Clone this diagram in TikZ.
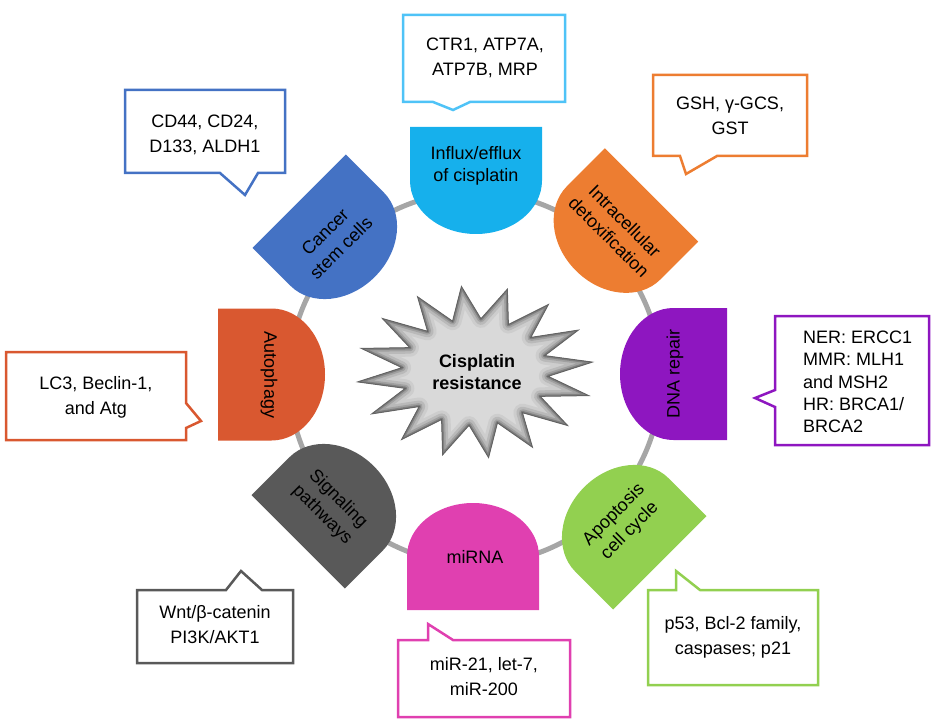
\documentclass[tikz,border=0pt]{standalone}
\usepackage{fontspec}
\setmainfont{Liberation Sans}
\definecolor{cInflux}{RGB}{22,176,236}
\definecolor{cDetox}{RGB}{237,125,49}
\definecolor{cDNA}{RGB}{142,22,192}
\definecolor{cApop}{RGB}{146,208,80}
\definecolor{cMiR}{RGB}{224,64,176}
\definecolor{cSig}{RGB}{89,89,89}
\definecolor{cAuto}{RGB}{217,88,48}
\definecolor{cCSC}{RGB}{68,114,196}
\definecolor{cCTR}{RGB}{79,195,247}
\definecolor{cRing}{RGB}{166,166,166}
\definecolor{cStar}{RGB}{217,217,217}
\newcommand\dshape[4]{%
  \begin{scope}[shift={(#2,#3)},rotate=#4]
    \fill[#1] (-66,-53.5) -- (66,-53.5) -- (66,0)
      .. controls (66,29.55) and (36.45,53.5) .. (0,53.5)
      .. controls (-36.45,53.5) and (-66,29.55) .. (-66,0) -- cycle;
  \end{scope}}
\begin{document}
\begin{tikzpicture}[x=1pt,y=-1pt,
  lbl/.style={font=\fontsize{18}{22.5}\selectfont, align=center, inner sep=0pt, text=black},
  cal/.style={font=\fontsize{18}{25}\selectfont, align=center, inner sep=0pt, text=black},
  bubble/.style={line width=2.5, fill=white, line join=miter}]
\useasboundingbox (0,0) rectangle (931,719);
% ring
\draw[line width=5, cRing] (475,378) circle[radius=186];
% D shapes
\dshape{cInflux}{476}{180.5}{0}
\dshape{cDetox}{613.7}{232.8}{-45}
\dshape{cDNA}{673.5}{374}{-90}
\dshape{cApop}{622}{525}{-135}
\dshape{cMiR}{473}{556.5}{180}
\dshape{cSig}{336}{504}{135}
\dshape{cAuto}{271.5}{374.5}{90}
\dshape{cCSC}{337}{239}{45}
% labels of shapes
\node[lbl] (tInflux) at (476,166) {Influx/efflux\\of cisplatin};
\node[lbl, rotate=-45] (tDetox) at (617,229) {Intracellular\\detoxification};
\node[lbl, rotate=90] (tDNA) at (675,374) {DNA repair};
\node[lbl, rotate=45] (tApop) at (622,523) {Apoptosis\\cell cycle};
\node[lbl] (tMiR) at (475,557) {miRNA};
\node[lbl, rotate=-45] (tSig) at (330,507) {Signaling\\pathways};
\node[lbl, rotate=-90] (tAuto) at (269,375) {Autophagy};
\node[lbl, rotate=45] (tCSC) at (333,240) {Cancer\\stem cells};
% star
\path[save path=\starpath] ({475+118*cos(141.6)},{372-86*sin(141.6)})
  \foreach \i in {1,...,31}{ -- ({475+118*(1-0.38*mod(\i,2))*cos(141.6+11.25*\i)},{372-86*(1-0.38*mod(\i,2))*sin(141.6+11.25*\i)}) } -- cycle;
\begin{scope}
  \path[use path=\starpath, clip];
  \fill[cStar, use path=\starpath];
  \draw[use path=\starpath, line width=18, color={rgb,255:red,205;green,205;blue,205}, line join=round];
  \draw[use path=\starpath, line width=12, color={rgb,255:red,185;green,185;blue,185}, line join=round];
  \draw[use path=\starpath, line width=7, color={rgb,255:red,160;green,160;blue,160}, line join=round];
  \draw[use path=\starpath, line width=3.5, color={rgb,255:red,128;green,128;blue,128}, line join=round];
\end{scope}
\draw[use path=\starpath, line width=1, color={rgb,255:red,100;green,100;blue,100}];
\node[lbl, font=\fontsize{18}{22.5}\selectfont\bfseries] (center) at (477,372) {Cisplatin\\resistance};
% callouts
\draw[bubble, draw=cCTR] (403,15) -- (565,15) -- (565,102) -- (470,102) -- (453,110) -- (433,102) -- (403,102) -- cycle;
\node[cal] (bCTR) at (485,58) {CTR1, ATP7A,\\ATP7B, MRP};
\draw[bubble, draw=cDetox] (653,75) -- (807,75) -- (807,156) -- (717,156) -- (686,174) -- (680,156) -- (653,156) -- cycle;
\node[cal] (bGSH) at (730,116) {GSH, γ-GCS,\\GST};
\draw[bubble, draw=cDNA] (775,316) -- (929,316) -- (929,445) -- (775,445) -- (775,407) -- (755,398) -- (775,390) -- cycle;
\node[cal, align=left, anchor=west, font=\fontsize{18}{22.4}\selectfont] (bDNA) at (803,382) {NER: ERCC1\\MMR: MLH1\\and MSH2\\HR: BRCA1/\\BRCA2};
\draw[bubble, draw=cApop] (648,590) -- (676,590) -- (676,571) -- (700,590) -- (818,590) -- (818,685) -- (648,685) -- cycle;
\node[cal] (bApop) at (733,637) {p53, Bcl-2 family,\\caspases; p21};
\draw[bubble, draw=cMiR] (398,640) -- (428,640) -- (428,624) -- (453,640) -- (570,640) -- (570,717) -- (398,717) -- cycle;
\node[cal] (bMiR) at (484,677) {miR-21, let-7,\\miR-200};
\draw[bubble, draw=cSig] (137,590) -- (226,590) -- (241,571) -- (262,590) -- (293,590) -- (293,663) -- (137,663) -- cycle;
\node[cal] (bSig) at (215,625) {Wnt/β-catenin\\PI3K/AKT1};
\draw[bubble, draw=cAuto] (6,352) -- (186,352) -- (186,403) -- (201,421) -- (186,428) -- (186,440) -- (6,440) -- cycle;
\node[cal] (bAuto) at (96,397) {LC3, Beclin-1,\\and Atg};
\draw[bubble, draw=cCSC] (125,90) -- (285,90) -- (285,173) -- (258,173) -- (245,195) -- (220,173) -- (125,173) -- cycle;
\node[cal] (bCSC) at (205,135) {CD44, CD24,\\D133, ALDH1};
\end{tikzpicture}
\end{document}
